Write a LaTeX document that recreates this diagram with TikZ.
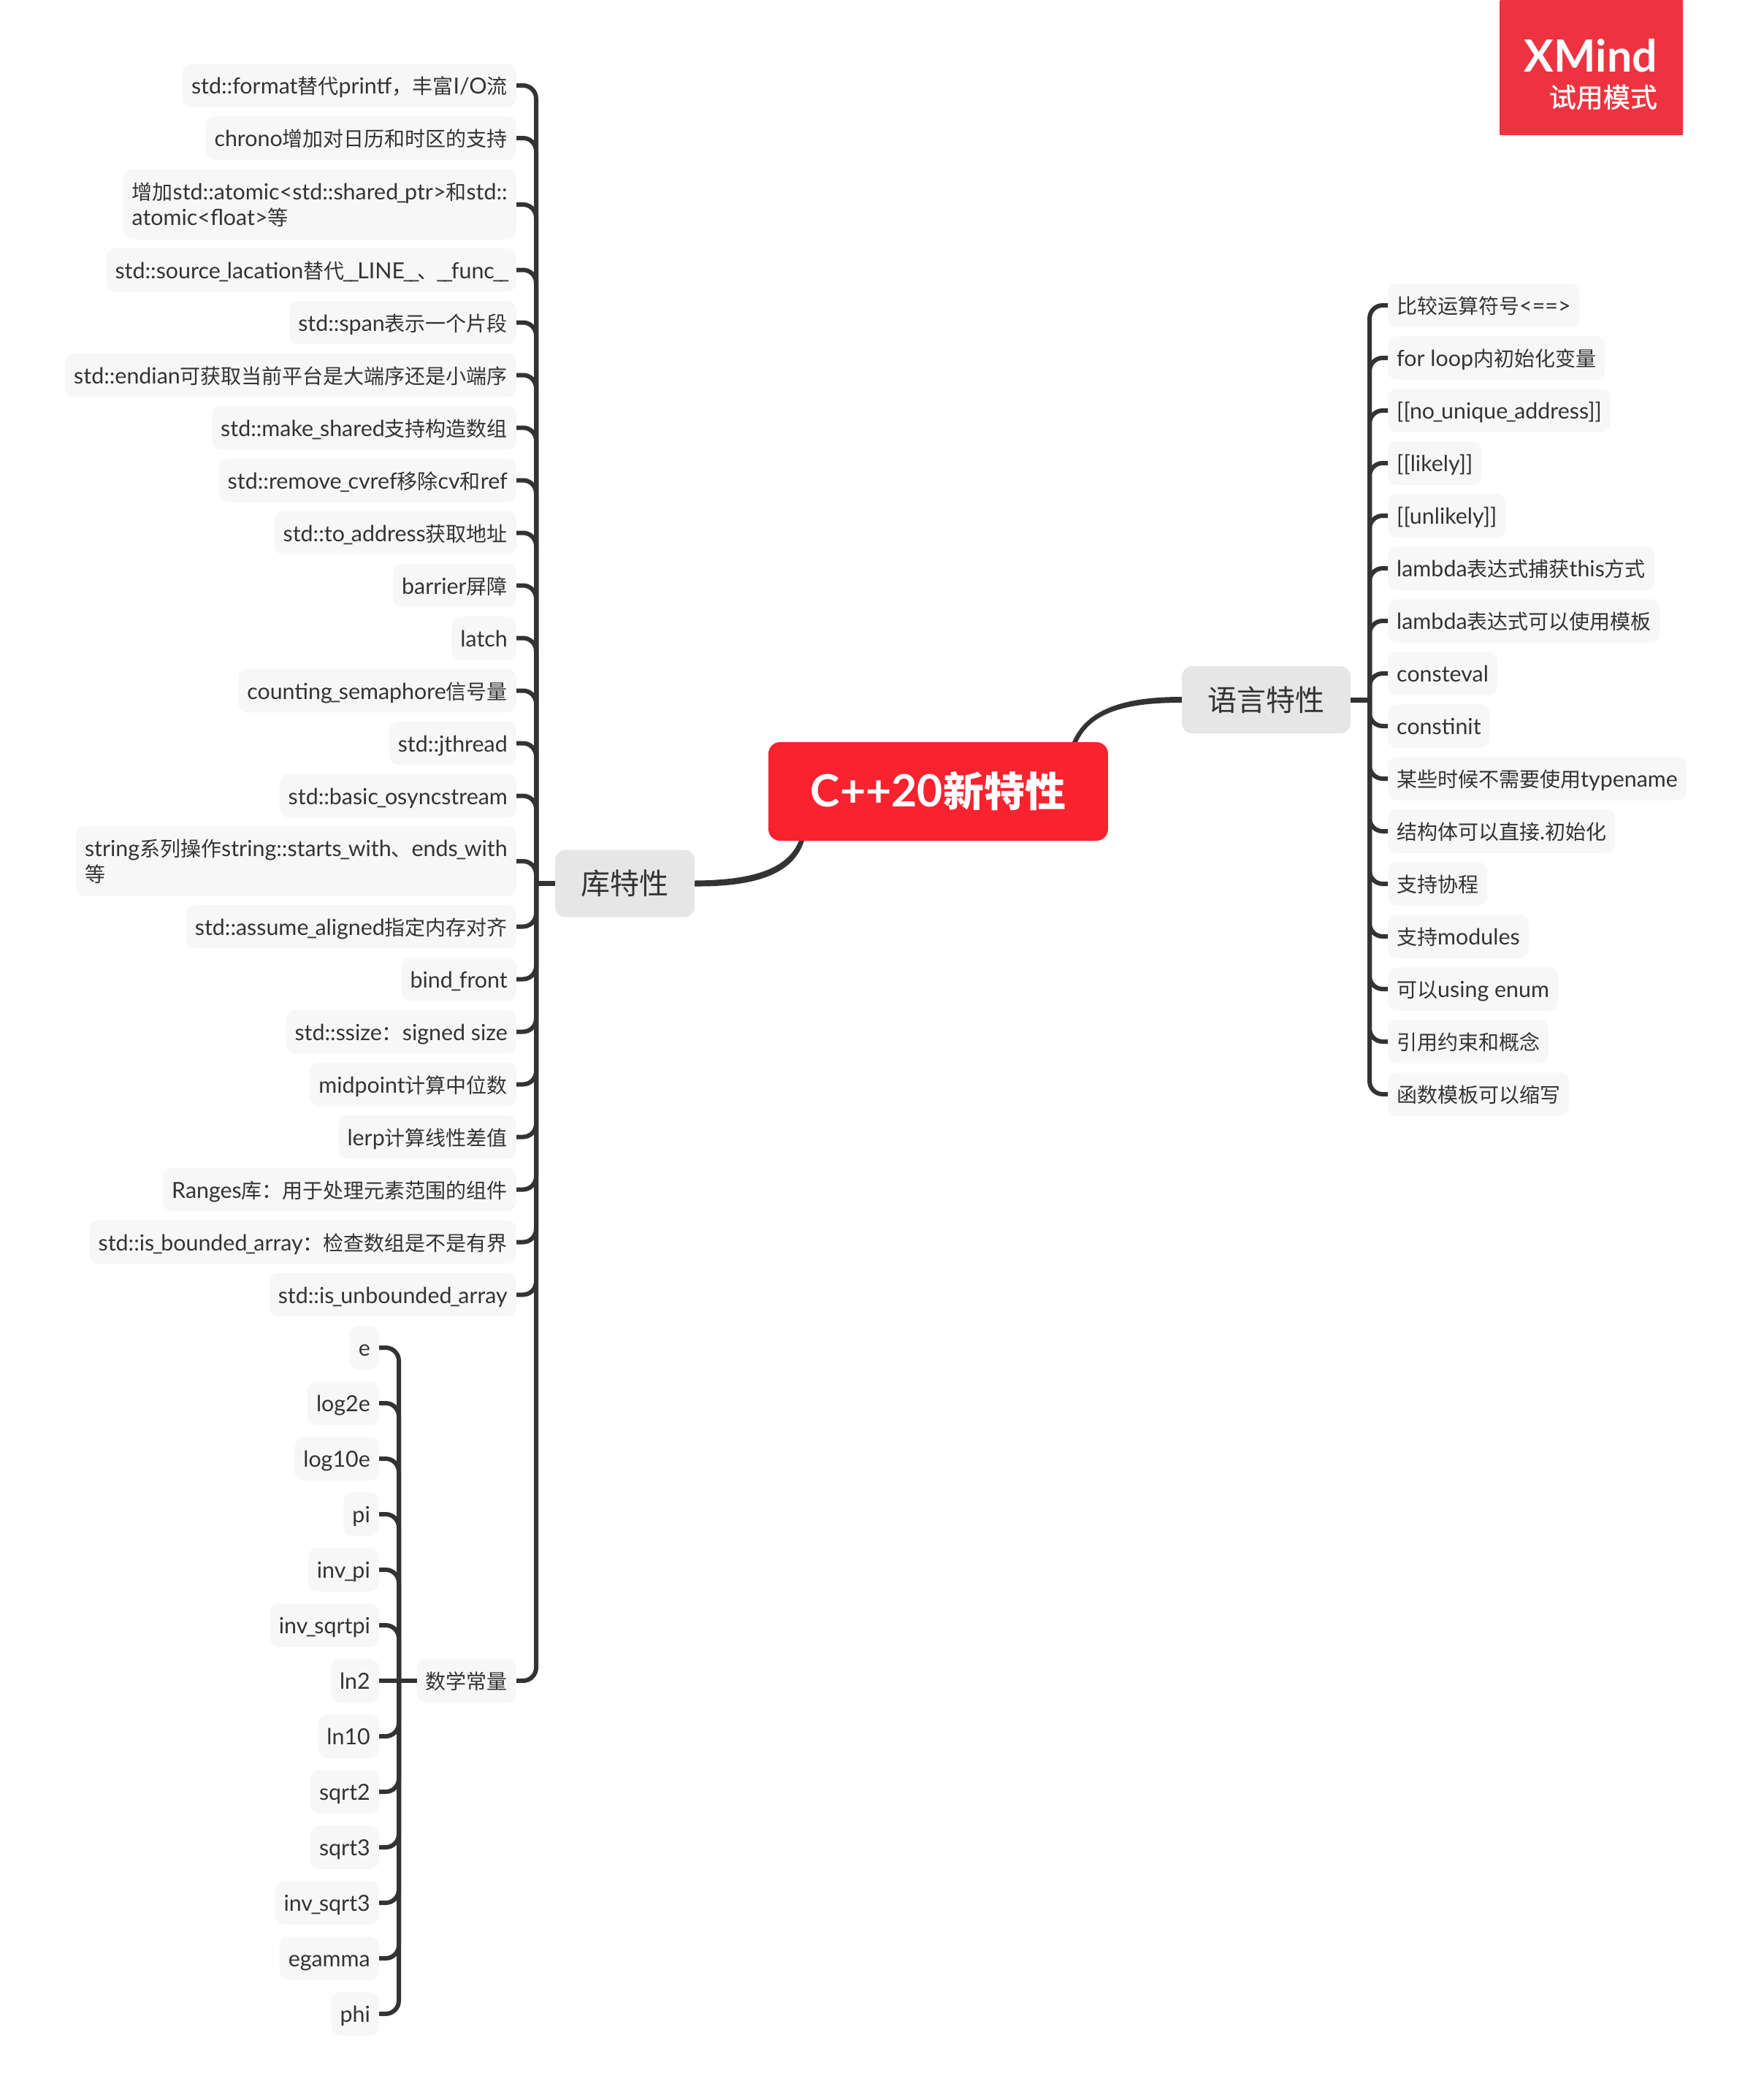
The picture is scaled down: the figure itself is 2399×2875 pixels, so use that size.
\documentclass[tikz,border=0pt]{standalone}
\usepackage{fontspec}
\setmainfont{Lato}[Scale=1.085]
\newfontfamily\zhf{Noto Sans CJK SC}
\newfontfamily\zhm{Noto Sans CJK SC}[FakeBold=1]
\newcommand{\zh}[1]{{\zhf #1}}
\newcommand{\us}{\kern-2.5pt\_\kern-2.5pt}
\definecolor{ink}{HTML}{333333}
\definecolor{leafbg}{HTML}{F7F7F7}
\definecolor{topicbg}{HTML}{E6E6E6}
\definecolor{rootbg}{HTML}{F9222F}
\definecolor{badge}{HTML}{EE3340}
\tikzset{
  boxbase/.style={rounded corners=12pt,fill=leafbg,text=ink,inner xsep=12pt,inner ysep=0pt,font=\fontsize{28}{35}\selectfont},
  leafone/.style={boxbase,minimum height=59.5pt,text height=27pt,text depth=4pt},
  leaftwo/.style={boxbase,minimum height=96pt,align=left,text height=,text depth=},
  topic/.style={rounded corners=14pt,fill=topicbg,text=ink,minimum height=92pt,inner sep=0pt,font=\fontsize{40}{48}\selectfont},
  limb/.style={draw=ink,line width=6pt,rounded corners=18pt},
  stub/.style={draw=ink,line width=7pt},
  taper/.style={fill=ink,draw=none},
}
\begin{document}
\begin{tikzpicture}[x=1pt,y=-1pt]
\useasboundingbox (0,0) rectangle (2399,2875);
% badge
\node[fill=badge,minimum width=251pt,minimum height=185pt,anchor=north west,inner sep=0pt,rounded corners=1pt] (badgebox) at (2053,0) {};
\node[anchor=base east,text=white,inner sep=0pt,font=\fontsize{56}{60}\selectfont\bfseries] (badgea) at (2269,98) {XMind};
\node[anchor=base east,text=white,inner sep=0pt,font=\fontsize{37}{37}\selectfont\zhm] (badgeb) at (2269,147) {试用模式};
% root and topics
\node[fill=rootbg,rounded corners=16pt,text=white,minimum width=465pt,minimum height=135pt,inner sep=0pt,font=\fontsize{56}{60}\selectfont\bfseries] (root) at (1284.5,1083.5) {C++20\zh{新特性}};
\node[topic,minimum width=231pt] (lang) at (1733.5,958) {\zh{语言特性}};
\node[topic,minimum width=191pt] (lib) at (855.5,1209.5) {\zh{库特性}};
\coordinate (langj) at (1875,958);
\coordinate (libj) at (734,1209.5);
\coordinate (mathj) at (546,2301);
% root connectors
\fill[taper] ([xshift=-49pt]root.north east) .. controls (1488,970) and (1540,954) .. ([yshift=4pt]lang.west) -- ([yshift=-4pt]lang.west) .. controls (1544,962) and (1494,974) .. ([xshift=-42pt]root.north east) -- cycle;
\fill[taper] ([xshift=42pt]root.south west) .. controls (1078,1190) and (1030,1205) .. ([yshift=4pt]lib.east) -- ([yshift=-4pt]lib.east) .. controls (1032,1214) and (1086,1198) .. ([xshift=49pt]root.south west) -- cycle;
\draw[stub] (lang.east) -- (langj);
\draw[stub] (lib.west) -- (libj);
% right leaves
\begin{scope}[every node/.append style={leafone,anchor=west}]
\node (r1) at (1900,418) {\zh{比较运算符号}<==>};
\node (r2) at (1900,490) {for loop\zh{内初始化变量}};
\node (r3) at (1900,562) {[[no\us unique\us address]]};
\node (r4) at (1900,634) {[[likely]]};
\node (r5) at (1900,706) {[[unlikely]]};
\node (r6) at (1900,778) {lambda\zh{表达式捕获}this\zh{方式}};
\node (r7) at (1900,850) {lambda\zh{表达式可以使用模板}};
\node (r8) at (1900,922) {consteval};
\node (r9) at (1900,994) {constinit};
\node (r10) at (1900,1066) {\zh{某些时候不需要使用}typename};
\node (r11) at (1900,1138) {\zh{结构体可以直接}.\zh{初始化}};
\node (r12) at (1900,1210) {\zh{支持协程}};
\node (r13) at (1900,1282) {\zh{支持}modules};
\node (r14) at (1900,1354) {\zh{可以}using enum};
\node (r15) at (1900,1426) {\zh{引用约束和概念}};
\node (r16) at (1900,1498) {\zh{函数模板可以缩写}};
\end{scope}
% left leaves
\begin{scope}[every node/.append style={leafone,anchor=east}]
\node (l1) at (707,117) {std::format\zh{替代}printf\zh{，丰富}I/O\zh{流}};
\node (l2) at (707,189) {chrono\zh{增加对日历和时区的支持}};
\node[leaftwo] (l3) at (707,280) {\zh{增加}std::atomic<std::shared\us ptr>\zh{和}std::\\atomic<float>\zh{等}};
\node (l4) at (707,369.5) {std::source\us lacation\zh{替代}\us\us LINE\us\us\zh{、}\us\us func\us\us};
\node (l5) at (707,441.5) {std::span\zh{表示一个片段}};
\node (l6) at (707,513.5) {std::endian\zh{可获取当前平台是大端序还是小端序}};
\node (l7) at (707,585.5) {std::make\us shared\zh{支持构造数组}};
\node (l8) at (707,657.5) {std::remove\us cvref\zh{移除}cv\zh{和}ref};
\node (l9) at (707,729.5) {std::to\us address\zh{获取地址}};
\node (l10) at (707,801.5) {barrier\zh{屏障}};
\node (l11) at (707,873.5) {latch};
\node (l12) at (707,945.5) {counting\us semaphore\zh{信号量}};
\node (l13) at (707,1017.5) {std::jthread};
\node (l14) at (707,1089.5) {std::basic\us osyncstream};
\node[leaftwo] (l15) at (707,1179) {string\zh{系列操作}string::starts\us with\zh{、}ends\us with\\\zh{等}};
\node (l16) at (707,1268.5) {std::assume\us aligned\zh{指定内存对齐}};
\node (l17) at (707,1340.5) {bind\us front};
\node (l18) at (707,1412.5) {std::ssize\zh{：}signed size};
\node (l19) at (707,1484.5) {midpoint\zh{计算中位数}};
\node (l20) at (707,1556.5) {lerp\zh{计算线性差值}};
\node (l21) at (707,1628.5) {Ranges\zh{库：用于处理元素范围的组件}};
\node (l22) at (707,1700.5) {std::is\us bounded\us array\zh{：检查数组是不是有界}};
\node (l23) at (707,1772.5) {std::is\us unbounded\us array};
\node (l24) at (707,2301) {\zh{数学常量}};
\node (m1) at (519,1845) {e};
\node (m2) at (519,1921) {log2e};
\node (m3) at (519,1997) {log10e};
\node (m4) at (519,2073) {pi};
\node (m5) at (519,2149) {inv\us pi};
\node (m6) at (519,2225) {inv\us sqrtpi};
\node (m7) at (519,2301) {ln2};
\node (m8) at (519,2377) {ln10};
\node (m9) at (519,2453) {sqrt2};
\node (m10) at (519,2529) {sqrt3};
\node (m11) at (519,2605) {inv\us sqrt3};
\node (m12) at (519,2681) {egamma};
\node (m13) at (519,2757) {phi};
\end{scope}
% branches
\foreach \n in {1,...,16} \draw[limb] (r\n.west) -| (langj);
\foreach \n in {1,...,24} \draw[limb] (l\n.east) -| (libj);
\foreach \n in {1,...,6} \draw[limb] (m\n.east) -| (mathj);
\foreach \n in {8,...,13} \draw[limb] (m\n.east) -| (mathj);
\draw[limb] (m7.east) -- (l24.west);
\end{tikzpicture}
\end{document}
